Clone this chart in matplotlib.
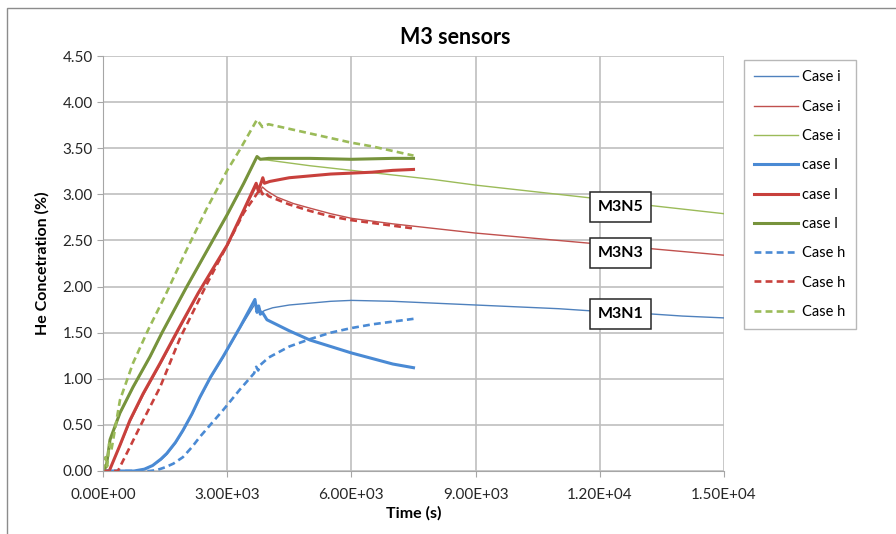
import numpy as np
import matplotlib
matplotlib.use("Agg")
import matplotlib.pyplot as plt
from matplotlib.ticker import FuncFormatter, MultipleLocator
from matplotlib.patches import Rectangle

plt.rcParams['font.family'] = ['Lato', 'DejaVu Sans']

# ---- data ----
# blue (M3N1)
t_bi = [0, 800, 1000, 1200, 1400, 1540, 1750, 1930, 2150, 2340, 2600, 2900, 3310, 3670, 3720, 3770, 3830,
        3900, 4100, 4500, 5000, 5500, 6000, 7000, 8000, 9000, 10000, 11000, 12000, 13000, 14000, 15000]
v_bi = [0, 0, 0.02, 0.06, 0.12, 0.18, 0.30, 0.43, 0.61, 0.79, 1.01, 1.23, 1.55, 1.81, 1.74, 1.78, 1.72,
        1.74, 1.77, 1.80, 1.82, 1.84, 1.85, 1.84, 1.82, 1.80, 1.78, 1.76, 1.73, 1.71, 1.68, 1.66]
t_bl = [0, 750, 1000, 1200, 1400, 1540, 1750, 1930, 2150, 2340, 2600, 2900, 3310, 3670, 3720, 3760, 3800,
        3850, 3960, 4500, 5000, 5500, 6000, 6500, 7000, 7500]
v_bl = [0, 0, 0.02, 0.06, 0.13, 0.19, 0.31, 0.44, 0.62, 0.80, 1.02, 1.24, 1.56, 1.86, 1.72, 1.79, 1.70,
        1.72, 1.64, 1.52, 1.42, 1.35, 1.28, 1.22, 1.16, 1.12]
t_bh = [0, 1130, 1300, 1500, 1700, 1930, 2150, 2340, 2900, 3300, 3650, 3700, 3750, 3800, 4000, 4500, 5000,
        5500, 6000, 6500, 7000, 7500]
v_bh = [0, 0, 0.01, 0.04, 0.08, 0.15, 0.26, 0.37, 0.66, 0.88, 1.06, 1.13, 1.09, 1.15, 1.23, 1.35, 1.43,
        1.50, 1.55, 1.59, 1.62, 1.65]

# red (M3N3)
t_ri = [0, 150, 410, 650, 970, 1380, 1810, 2300, 3000, 3400, 3720, 3780, 3850, 3950, 4200, 4600, 5000,
        5500, 6000, 7000, 8000, 9000, 10000, 11000, 12000, 13000, 14000, 15000]
v_ri = [0, 0, 0.27, 0.53, 0.82, 1.15, 1.51, 1.92, 2.44, 2.82, 3.10, 3.02, 3.08, 3.04, 2.97, 2.90, 2.85,
        2.79, 2.74, 2.68, 2.63, 2.58, 2.54, 2.50, 2.46, 2.42, 2.38, 2.34]
t_rl = [0, 150, 410, 650, 970, 1380, 1810, 2300, 3000, 3400, 3700, 3750, 3800, 3860, 3900, 4030, 4500,
        5000, 5500, 6000, 6500, 7000, 7500]
v_rl = [0, 0, 0.28, 0.55, 0.84, 1.17, 1.53, 1.93, 2.45, 2.83, 3.12, 3.04, 3.10, 3.18, 3.12, 3.14, 3.18,
        3.20, 3.22, 3.23, 3.24, 3.26, 3.27]
t_rh = [0, 360, 650, 970, 1380, 1860, 2500, 3000, 3400, 3800, 3850, 3900, 4000, 4500, 5000, 5500, 6000,
        6500, 7000, 7500]
v_rh = [0, 0, 0.26, 0.55, 0.91, 1.44, 2.02, 2.45, 2.80, 3.06, 3.00, 3.03, 2.98, 2.89, 2.82, 2.76, 2.72,
        2.69, 2.66, 2.63]

# green (M3N5)
t_gi = [0, 80, 170, 410, 725, 1135, 1425, 2000, 2500, 3000, 3400, 3720, 3800, 4000, 5000, 6000, 7000,
        8000, 9000, 10000, 11000, 12000, 13000, 14000, 15000]
v_gi = [0, 0.05, 0.33, 0.62, 0.90, 1.23, 1.49, 1.97, 2.37, 2.77, 3.11, 3.40, 3.38, 3.37, 3.31, 3.26, 3.21,
        3.16, 3.10, 3.05, 3.00, 2.95, 2.89, 2.84, 2.79]
t_gl = [0, 80, 170, 410, 725, 1135, 1425, 2000, 2500, 3000, 3400, 3720, 3800, 4000, 5000, 6000, 7000, 7500]
v_gl = [0, 0.05, 0.34, 0.63, 0.91, 1.24, 1.50, 1.98, 2.38, 2.78, 3.12, 3.41, 3.38, 3.39, 3.39, 3.38,
        3.39, 3.39]
t_gh = [0, 60, 100, 150, 200, 300, 410, 725, 1090, 1500, 2000, 2500, 3000, 3300, 3720, 3850, 4000, 4500,
        5000, 5500, 6000, 6500, 7000, 7500]
v_gh = [0, 0.15, 0.05, 0.30, 0.22, 0.48, 0.77, 1.17, 1.53, 1.90, 2.38, 2.84, 3.26, 3.48, 3.81, 3.73,
        3.76, 3.71, 3.66, 3.61, 3.56, 3.52, 3.47, 3.42]

labels = ["Case i", "Case i", "Case i", "case l", "case l", "case l", "Case h", "Case h", "Case h"]
sensor_names = ["M3N5", "M3N3", "M3N1"]
sensor_pos = [(12500, 2.86), (12500, 2.36), (12500, 1.70)]

blue = '#4F81BD'
red = '#C0504D'
green = '#9BBB59'
blue2 = '#4A8AD4'
red2 = '#C8403C'
green2 = '#77933C'

fig = plt.figure(figsize=(8.96, 5.34), dpi=100)
ax = fig.add_axes([103/896, 63/534, 621/896, 415/534])

ax.plot(t_bi, v_bi, color=blue, lw=1.0, label=labels[0])
ax.plot(t_ri, v_ri, color=red, lw=1.0, label=labels[1])
ax.plot(t_gi, v_gi, color=green, lw=1.0, label=labels[2])
ax.plot(t_bl, v_bl, color=blue2, lw=2.2, label=labels[3])
ax.plot(t_rl, v_rl, color=red2, lw=2.2, label=labels[4])
ax.plot(t_gl, v_gl, color=green2, lw=2.2, label=labels[5])
ax.plot(t_bh, v_bh, color=blue2, lw=1.9, ls=(0, (2.6, 1.6)), label=labels[6])
ax.plot(t_rh, v_rh, color=red2, lw=1.9, ls=(0, (2.6, 1.6)), label=labels[7])
ax.plot(t_gh, v_gh, color=green, lw=1.9, ls=(0, (2.6, 1.6)), label=labels[8])

ax.set_xlim(0, 15000)
ax.set_ylim(0, 4.5)
ax.xaxis.set_major_locator(MultipleLocator(3000))
ax.yaxis.set_major_locator(MultipleLocator(0.5))
ax.xaxis.set_major_formatter(FuncFormatter(lambda v, p: f"{v:.2E}"))
ax.yaxis.set_major_formatter(FuncFormatter(lambda v, p: f"{v:.2f}"))
ax.grid(True, color='#BFBFBF', lw=1.2)
ax.set_axisbelow(True)
for s in ['top', 'right']:
    ax.spines[s].set_visible(False)
for s in ['left', 'bottom']:
    ax.spines[s].set_color('#A6A6A6')
ax.tick_params(axis='both', colors='#A6A6A6', labelcolor='#262626', labelsize=11, length=4)
ax.tick_params(axis='x', pad=8)

ax.set_xlabel("Time (s)", fontsize=11.5, fontweight='bold', labelpad=3)
ax.set_ylabel("He Concetration (%)", fontsize=11.5, fontweight='bold', labelpad=9)
fig.text(455/896, 1 - 37/534, "M3 sensors", ha='center', va='center', fontsize=15.5, fontweight='bold')

for name, (x, y) in zip(sensor_names, sensor_pos):
    ax.text(x, y, name, ha='center', va='center', fontsize=11.5, fontweight='bold',
            bbox=dict(boxstyle='square,pad=0.5', fc='white', ec='#262626', lw=1.1))

leg = ax.legend(loc='upper left', bbox_to_anchor=(1.032, 0.99), fontsize=10.5, frameon=True,
                fancybox=False, edgecolor='#A6A6A6', handlelength=3.0, labelspacing=1.05,
                borderpad=0.7, handletextpad=0.3, borderaxespad=0)
leg.get_frame().set_linewidth(1.0)

fig.patches.append(Rectangle((7/896, -0.05), 1.2, 1 - 8/534 + 0.05, transform=fig.transFigure,
                             fill=False, ec='#8C8C8C', lw=1.0))

plt.savefig("out.png", dpi=100)
